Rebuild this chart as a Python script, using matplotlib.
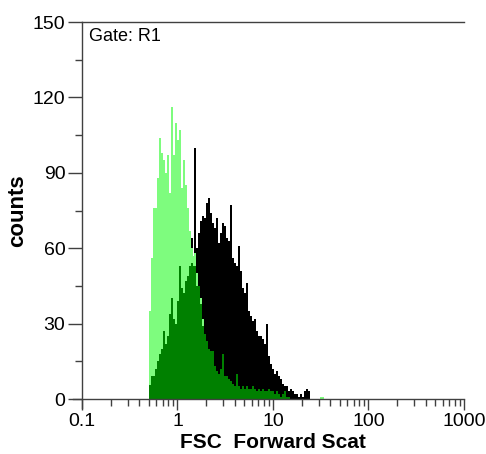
import numpy as np
import matplotlib
matplotlib.use("Agg")
import matplotlib.pyplot as plt
from matplotlib.ticker import LogLocator, FixedLocator, NullFormatter

plt.rcParams['font.family'] = ['Liberation Sans', 'DejaVu Sans']

# ---- data ----
bin_start = 0.5          # left edge of first channel
bins_per_decade = 48     # log channels per decade

light_green_start = 0    # channel offset from bin_start
light_green = [35, 56, 76, 76, 88, 104, 98, 95, 90, 97, 82, 116, 97, 110, 103, 107,
               84, 95, 85, 76, 67, 60, 57, 58, 50, 45, 40, 32, 20, 15, 12, 9, 6, 5,
               4, 3, 2, 2, 1, 1, 1, 1, 0, 0, 0, 0, 0, 0, 0, 0, 0, 0, 0, 0, 0, 0, 0, 0,
               0, 0, 0, 0, 0, 0, 0, 0, 0, 0, 0, 0, 0, 0, 0, 0, 0, 0, 0, 0, 0, 0, 0, 0,
               0, 0, 0, 0, 1, 1]

black_start = 8
black = [10, 15, 20, 25, 30, 35, 40, 45, 45, 50,
         50, 58, 62, 64, 52, 100, 60, 66, 71, 73, 72, 78, 80, 74, 70, 68, 72, 62,
         66, 70, 69, 64, 63, 77, 56, 54, 53, 61, 51, 44, 42, 46, 35, 33, 31, 32,
         27, 25, 25, 24, 22, 30, 17, 14, 12, 10, 11, 9, 8, 6, 5, 5, 3, 4, 3, 2, 2,
         1, 2, 1, 3, 4, 3]

dark_green_start = 0
dark_green = [5.5, 9, 9, 12, 15, 18, 20, 27, 22, 25, 34, 40, 32, 30, 39, 53, 44, 42,
              47, 49, 53, 54, 53, 53, 45, 45, 38, 29, 26, 23, 20, 19, 19, 13, 11, 10,
              12, 18, 9, 9, 8, 7, 6, 5, 10, 5, 4, 5, 4, 5, 4, 4, 5, 4, 3, 4, 3, 4, 3,
              3, 4, 3, 3, 2, 3, 2, 1, 2, 3, 1, 1]

x_ticks = [0.1, 1, 10, 100, 1000]
x_tick_labels = ["0.1", "1", "10", "100", "1000"]
y_ticks = [0, 30, 60, 90, 120, 150]


def edges_for(start, n):
    k = np.arange(start, start + n + 1)
    return 10 ** (np.log10(bin_start) + k / bins_per_decade)


fig = plt.figure(figsize=(4.86, 4.54), dpi=100)
ax = fig.add_axes([0.1687, 0.1211, 0.786, 0.8304])

ax.stairs(black, edges_for(black_start, len(black)), fill=True, color="black", lw=0)
ax.stairs(light_green, edges_for(light_green_start, len(light_green)), fill=True,
          color="#7efc7e", lw=0)
ax.stairs(dark_green, edges_for(dark_green_start, len(dark_green)), fill=True,
          color="#008000", lw=0)

ax.set_xscale("log")
ax.set_xlim(0.1, 1000)
ax.set_ylim(0, 150)

ax.xaxis.set_major_locator(FixedLocator(x_ticks))
ax.set_xticklabels(x_tick_labels)
ax.xaxis.set_minor_locator(LogLocator(base=10, subs=np.arange(2, 10)))
ax.xaxis.set_minor_formatter(NullFormatter())
ax.set_yticks(y_ticks)
ax.yaxis.set_minor_locator(FixedLocator([15, 45, 75, 105, 135]))

axis_col = "#404040"
ax.tick_params(axis="both", which="major", direction="out", labelsize=14,
               color=axis_col, width=1, pad=2)
ax.tick_params(axis="x", which="major", length=8)
ax.tick_params(axis="y", which="major", length=10)
ax.tick_params(axis="both", which="minor", direction="out", length=5,
               color=axis_col, width=1)

for s in ["left", "bottom", "top"]:
    ax.spines[s].set_color(axis_col)
    ax.spines[s].set_linewidth(1)
ax.spines["right"].set_visible(False)
ax.spines["left"].set_bounds(-3.6, 150)
ax.spines["bottom"].set_bounds(10 ** (-1 - 9 / 95.5), 1000)

ax.set_ylabel("counts", fontsize=16, fontweight="bold", labelpad=3)
ax.set_xlabel("FSC  Forward Scat", fontsize=15, fontweight="bold", labelpad=2)

ax.text(0.018, 0.985, "Gate: R1", transform=ax.transAxes, ha="left", va="top",
        fontsize=13)

fig.savefig("out.png", dpi=100)
